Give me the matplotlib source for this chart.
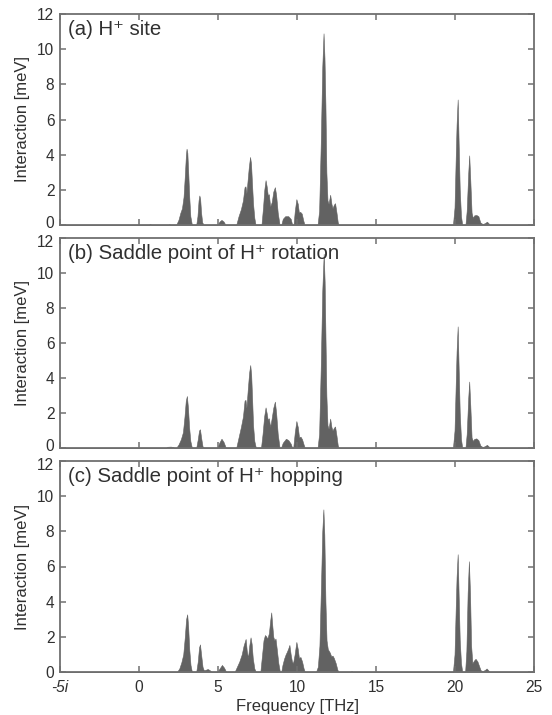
import matplotlib
matplotlib.use("Agg")
import matplotlib.pyplot as plt
from matplotlib.transforms import ScaledTranslation

plt.rcParams['font.family'] = ['Liberation Sans', 'DejaVu Sans']

# ---------------- data (frequency [THz], interaction [meV]) ----------------
freq_a = [-5, 0.6, 0.7, 0.8, 1.85, 1.92, 2.0,
          2.35, 2.5, 2.62, 2.72, 2.82, 2.9, 2.97, 3.01, 3.06, 3.12, 3.18, 3.25, 3.35,
          3.62, 3.7, 3.77, 3.82, 3.87, 3.93, 4.0, 4.1,
          4.95, 5.1, 5.22, 5.35, 5.48,
          6.15, 6.3, 6.45, 6.58, 6.68, 6.74, 6.8, 6.86, 6.95, 7.03, 7.09, 7.15, 7.22, 7.3, 7.38,
          7.75, 7.85, 7.93, 8.01, 8.08, 8.15, 8.22, 8.3, 8.4, 8.5, 8.6, 8.68, 8.78, 8.9,
          9.0, 9.1, 9.25, 9.45, 9.6, 9.7,
          9.78, 9.86, 9.96, 10.05, 10.12, 10.2, 10.3, 10.4, 10.48,
          11.3, 11.4, 11.5, 11.6, 11.68, 11.74, 11.8, 11.86, 11.93, 12.0, 12.1, 12.18, 12.25,
          12.33, 12.41, 12.5, 12.58, 12.65,
          19.87, 19.97, 20.05, 20.1, 20.17, 20.23, 20.3, 20.38, 20.46,
          20.66, 20.74, 20.84, 20.9, 20.97, 21.05, 21.13, 21.22, 21.35, 21.48, 21.6, 21.75,
          21.92, 22.02, 22.12, 22.2, 25]
int_a = [0, 0, 0.06, 0, 0, 0.05, 0,
         0, 0.3, 0.7, 0.95, 1.6, 2.8, 4.0, 4.34, 4.1, 2.9, 1.6, 0.5, 0,
         0, 0.5, 1.4, 1.68, 1.5, 0.7, 0.15, 0,
         0, 0.2, 0.29, 0.2, 0,
         0, 0.5, 0.9, 1.4, 2.15, 2.2, 1.8, 2.4, 3.3, 3.87, 3.5, 2.4, 1.2, 0.4, 0,
         0, 1.0, 2.0, 2.55, 2.2, 1.7, 1.75, 1.05, 1.3, 1.9, 2.15, 1.7, 0.7, 0,
         0, 0.35, 0.5, 0.5, 0.35, 0,
         0, 0.8, 1.47, 1.2, 0.7, 0.75, 0.65, 0.25, 0,
         0, 0.8, 4.5, 9.0, 10.9, 9.5, 6.8, 3.0, 1.4, 1.2, 1.72, 1.2, 0.95,
         1.15, 1.24, 0.7, 0.15, 0,
         0, 1.0, 4.0, 5.7, 7.14, 4.7, 2.0, 0.5, 0,
         0, 0.8, 3.0, 3.96, 2.5, 0.7, 0.4, 0.55, 0.57, 0.5, 0.15, 0.05,
         0.12, 0.19, 0.1, 0, 0]

freq_b = [-5, 1.7, 1.8, 2.0, 2.15, 2.25,
          2.35, 2.5, 2.65, 2.78, 2.88, 2.96, 3.03, 3.1, 3.17, 3.25, 3.35,
          3.62, 3.72, 3.8, 3.86, 3.93, 4.02, 4.12,
          4.95, 5.08, 5.22, 5.35, 5.5,
          6.15, 6.3, 6.45, 6.58, 6.68, 6.74, 6.8, 6.88, 6.97, 7.04, 7.1, 7.16, 7.22, 7.3, 7.4,
          7.72, 7.82, 7.92, 8.01, 8.08, 8.15, 8.22, 8.3, 8.38, 8.5, 8.6, 8.68, 8.78, 8.9,
          8.98, 9.1, 9.3, 9.45, 9.6, 9.7,
          9.76, 9.86, 9.96, 10.05, 10.13, 10.22, 10.32, 10.42, 10.5,
          11.3, 11.4, 11.5, 11.6, 11.69, 11.75, 11.8, 11.86, 11.93, 12.0, 12.1, 12.18, 12.25,
          12.33, 12.41, 12.5, 12.58, 12.65,
          19.87, 19.97, 20.05, 20.1, 20.17, 20.23, 20.3, 20.38, 20.46,
          20.66, 20.74, 20.84, 20.9, 20.97, 21.05, 21.13, 21.22, 21.35, 21.48, 21.6, 21.75,
          21.92, 22.02, 22.12, 22.2, 25]
int_b = [0, 0, 0.07, 0.08, 0.06, 0,
         0, 0.2, 0.5, 0.9, 1.8, 2.7, 2.97, 2.3, 1.2, 0.4, 0,
         0, 0.5, 1.0, 1.07, 0.6, 0.1, 0,
         0, 0.3, 0.53, 0.35, 0,
         0, 0.6, 1.2, 1.8, 2.7, 2.75, 2.3, 3.3, 4.3, 4.74, 4.2, 2.8, 1.3, 0.4, 0,
         0, 0.8, 1.8, 2.32, 2.0, 1.6, 1.7, 1.2, 1.6, 2.3, 2.65, 2.0, 0.8, 0,
         0, 0.3, 0.53, 0.45, 0.25, 0,
         0, 0.9, 1.54, 1.2, 0.6, 0.65, 0.5, 0.2, 0,
         0, 0.8, 4.5, 9.0, 11.1, 9.5, 6.5, 3.0, 1.3, 1.1, 1.68, 1.2, 1.0,
         1.15, 1.23, 0.7, 0.15, 0,
         0, 1.0, 3.8, 5.5, 6.95, 4.6, 2.0, 0.5, 0,
         0, 0.8, 2.9, 3.8, 2.4, 0.6, 0.4, 0.52, 0.55, 0.45, 0.15, 0.05,
         0.12, 0.18, 0.1, 0, 0]

freq_c = [-5, 2.4,
          2.55, 2.68, 2.8, 2.9, 2.98, 3.05, 3.11, 3.18, 3.26, 3.35,
          3.62, 3.72, 3.8, 3.86, 3.93, 4.02, 4.1, 4.2, 4.35, 4.48, 4.6,
          4.95, 5.1, 5.25, 5.38, 5.52,
          6.05, 6.2, 6.35, 6.5, 6.62, 6.75, 6.82, 6.9, 6.98, 7.06, 7.13, 7.2, 7.3, 7.4,
          7.68, 7.78, 7.88, 7.97, 8.04, 8.12, 8.22, 8.3, 8.37, 8.44, 8.5, 8.57, 8.64, 8.72,
          8.82, 8.92,
          9.0, 9.08, 9.18, 9.28, 9.36, 9.45, 9.52, 9.6, 9.68, 9.75,
          9.85, 9.96, 10.05, 10.12, 10.22, 10.32, 10.42, 10.5,
          11.2, 11.32, 11.42, 11.52, 11.6, 11.67, 11.73, 11.8, 11.87, 11.95, 12.08, 12.16,
          12.25, 12.33, 12.45, 12.55, 12.62,
          13.35, 13.45, 13.55,
          19.87, 19.97, 20.05, 20.1, 20.17, 20.23, 20.3, 20.38, 20.46,
          20.64, 20.72, 20.8, 20.88, 20.95, 21.02, 21.1, 21.2, 21.3, 21.42, 21.52, 21.62,
          21.75, 21.9, 22.0, 22.1, 22.2, 25]
int_c = [0, 0,
         0.2, 0.55, 1.0, 2.0, 3.0, 3.28, 2.6, 1.3, 0.4, 0,
         0, 0.6, 1.4, 1.57, 1.0, 0.3, 0.1, 0.12, 0.17, 0.1, 0,
         0, 0.2, 0.4, 0.25, 0,
         0, 0.3, 0.6, 1.0, 1.5, 1.88, 1.2, 0.8, 1.5, 1.97, 1.6, 0.8, 0.2, 0,
         0, 0.9, 1.8, 2.1, 2.04, 1.9, 2.2, 2.9, 3.39, 2.6, 2.0, 1.8, 1.9, 1.3,
         0.5, 0,
         0, 0.4, 0.75, 1.0, 1.15, 1.35, 1.54, 1.0, 0.6, 0.5,
         1.0, 1.71, 1.3, 0.8, 0.85, 0.6, 0.2, 0,
         0, 0.3, 1.5, 5.0, 8.0, 9.25, 7.8, 4.0, 1.8, 1.3, 1.1, 0.9,
         0.93, 0.8, 0.5, 0.15, 0,
         0, 0.05, 0,
         0, 1.0, 3.8, 5.4, 6.7, 4.4, 1.8, 0.5, 0,
         0, 1.2, 4.5, 6.3, 4.5, 1.5, 0.5, 0.65, 0.75, 0.6, 0.35, 0.1,
         0.05, 0.12, 0.2, 0.1, 0, 0]

titles = ['(a) H\u207a site',
          '(b) Saddle point of H\u207a rotation',
          '(c) Saddle point of H\u207a hopping']
xticks = [-5, 0, 5, 10, 15, 20, 25]
xticklabels = ['-5i', '0', '5', '10', '15', '20', '25']
yticks = [0, 2, 4, 6, 8, 10, 12]

# ---------------- figure ----------------
W, H = 552, 715
fig = plt.figure(figsize=(W / 100, H / 100), dpi=100)

# panel boxes in pixels: (top, bottom)
boxes = [(14, 225), (238, 448), (461, 672)]
left_px, right_px = 60, 534

spine_col = '#707070'
fill_col = '#626262'
text_col = '#303030'

series = [(freq_a, int_a), (freq_b, int_b), (freq_c, int_c)]

for i, ((top, bot), (fx, fy), title) in enumerate(zip(boxes, series, titles)):
    ax = fig.add_axes([left_px / W, 1 - bot / H, (right_px - left_px) / W, (bot - top) / H])
    ax.fill_between(fx, fy, 0, color=fill_col, linewidth=0.4, edgecolor=fill_col)
    ax.set_xlim(-5, 25)
    ax.set_ylim(0, 12)
    for s in ax.spines.values():
        s.set_color(spine_col)
        s.set_linewidth(1.3)
    ax.tick_params(direction='in', top=True, right=True, length=4, width=1.1,
                   color=spine_col, labelcolor=text_col, labelsize=11.2)
    ax.tick_params(axis='y', pad=4)
    ax.tick_params(axis='x', pad=6)
    ax.set_yticks(yticks)
    # nudge the end labels apart like the reference (0 slightly up, 12 slightly down)
    yt = ax.yaxis.get_major_ticks()
    if i < 2:
        lab0 = yt[0].label1
        lab0.set_transform(lab0.get_transform() + ScaledTranslation(0, 2.2 / 72, fig.dpi_scale_trans))
    if i > 0:
        lab12 = yt[-1].label1
        lab12.set_transform(lab12.get_transform() + ScaledTranslation(0, -2.2 / 72, fig.dpi_scale_trans))
    if i == 2:
        ax.set_xticks(xticks, xticklabels)
        ax.get_xticklabels()[0].set_fontstyle('italic')
        ax.set_xlabel('Frequency [THz]', fontsize=12, color=text_col, labelpad=2.5)
    else:
        ax.set_xticks(xticks, [''] * len(xticks))
    ax.set_ylabel('Interaction [meV]', fontsize=12, color=text_col, labelpad=5)
    ax.text(8 / (right_px - left_px), 1 - 6 / (bot - top), title, transform=ax.transAxes,
            ha='left', va='top', fontsize=14.7, color=text_col)

fig.savefig('out.png', dpi=100)
